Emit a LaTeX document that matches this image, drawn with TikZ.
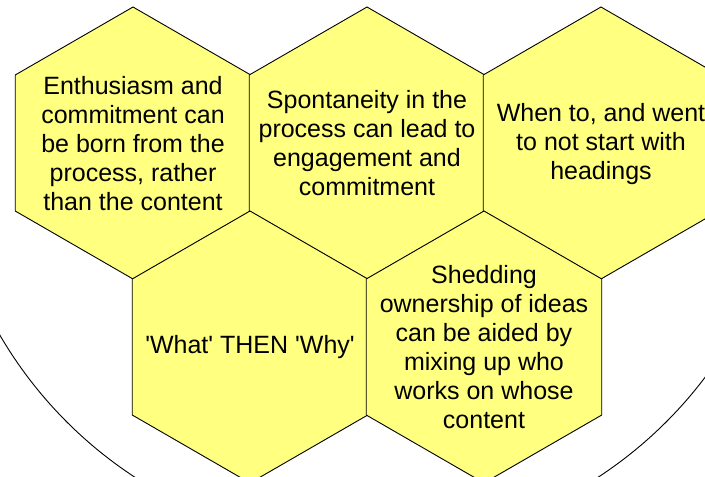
\documentclass[tikz,border=0pt]{standalone}
\usepackage{fontspec}
\setmainfont{Liberation Sans}
\definecolor{hexfill}{HTML}{FFFF80}
\tikzset{
  hexcell/.style={fill=hexfill, draw=black, line width=0.9pt, line join=miter},
  hextext/.style={align=center, inner sep=0pt, font=\fontsize{25}{29}\selectfont},
  ring/.style={draw=black, line width=0.9pt}
}
\newcommand{\hexat}[2]{%
  \path[hexcell] (#1,#2) +(90:136) -- +(30:136) -- +(-30:136) -- +(-90:136) -- +(-150:136) -- +(150:136) -- cycle;}
\begin{document}
\begin{tikzpicture}[x=1pt,y=-1pt]
\useasboundingbox (0,0) rectangle (705,477);
\clip (0,0) rectangle (705,477);
\fill[white] (0,0) rectangle (705,477);
\coordinate (ringc) at (366.5,122);
\draw[ring] (ringc) circle[radius=424];
\hexat{133}{143}
\hexat{367}{143}
\hexat{601}{143}
\hexat{250}{347}
\hexat{484}{347}
\node[hextext] (t1) at (133,144) {Enthusiasm and\\commitment can\\be born from the\\process, rather\\than the content};
\node[hextext] (t2) at (367,143) {Spontaneity in the\\process can lead to\\engagement and\\commitment};
\node[hextext] (t3) at (601,144) {When to, and went\\to not start with\\headings};
\node[hextext] (t4) at (250,347) {\textquotesingle What\textquotesingle{} THEN \textquotesingle Why\textquotesingle};
\node[hextext] (t5) at (484,347) {Shedding\\ownership of ideas\\can be aided by\\mixing up who\\works on whose\\content};
\end{tikzpicture}
\end{document}
